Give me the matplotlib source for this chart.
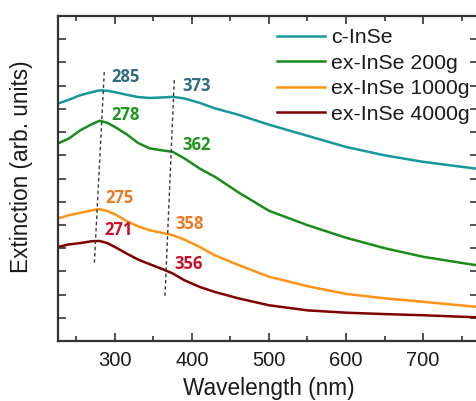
import matplotlib
matplotlib.use("Agg")
import matplotlib.pyplot as plt

# extinction spectra (arb. units, vertically offset)
wavelength = [226, 240, 255, 270, 280, 290, 300, 315, 330, 345, 360, 375,
              390, 410, 430, 460, 500, 550, 600, 650, 700, 770]
c_inse = [10.23, 10.39, 10.59, 10.72, 10.80, 10.78, 10.72, 10.61, 10.51, 10.47,
          10.49, 10.52, 10.45, 10.26, 10.02, 9.75, 9.32, 8.84, 8.36, 8.00, 7.72, 7.42]
ex_200g = [8.51, 8.72, 9.08, 9.34, 9.49, 9.40, 9.22, 8.91, 8.53, 8.30,
           8.22, 8.15, 7.87, 7.43, 7.07, 6.41, 5.61, 4.99, 4.45, 4.00, 3.63, 3.26]
ex_1000g = [5.28, 5.42, 5.52, 5.63, 5.68, 5.60, 5.46, 5.17, 4.94, 4.77,
            4.67, 4.56, 4.37, 4.05, 3.69, 3.28, 2.77, 2.36, 2.03, 1.84, 1.69, 1.47]
ex_4000g = [4.05, 4.16, 4.22, 4.30, 4.31, 4.22, 4.05, 3.77, 3.51, 3.31,
            3.12, 2.91, 2.62, 2.33, 2.11, 1.84, 1.54, 1.32, 1.22, 1.16, 1.11, 1.02]

series_names = ["c-InSe", "ex-InSe 200g", "ex-InSe 1000g", "ex-InSe 4000g"]
line_colors = ["#16979b", "#1a8c1a", "#ff9414", "#800000"]
label_colors = ["#2f6b80", "#1e961e", "#ec7a1e", "#c8102e"]

# band positions (nm) for the peak and the shoulder of each spectrum
peak_nm = [285, 278, 275, 271]
shoulder_nm = [373, 362, 358, 356]

fig = plt.figure(figsize=(4.76, 4.01), dpi=100)
ax = fig.add_axes([0.1218, 0.1496, 0.8824, 0.8104])

for ys, name, col in zip([c_inse, ex_200g, ex_1000g, ex_4000g], series_names, line_colors):
    ax.plot(wavelength, ys, color=col, lw=1.8, label=name)

# guide lines through the peaks and shoulders
ax.plot([286.1, 273.1], [11.59, 3.26], ls=(0, (2.5, 2)), color="#3a3a3a", lw=1.0)
ax.plot([377.0, 364.9], [11.24, 1.90], ls=(0, (2.5, 2)), color="#3a3a3a", lw=1.0)

peak_xy = [(296, 11.36), (295, 9.73), (288, 6.15), (286, 4.77)]
shoulder_xy = [(388, 10.98), (388, 8.44), (378, 5.05), (377, 3.33)]
for i in range(4):
    ax.text(*peak_xy[i], str(peak_nm[i]), color=label_colors[i], fontsize=12,
            fontweight="bold", family="Open Sans", va="center", ha="left")
    ax.text(*shoulder_xy[i], str(shoulder_nm[i]), color=label_colors[i], fontsize=12,
            fontweight="bold", family="Open Sans", va="center", ha="left")

ax.set_xlim(226, 771.4)
ax.set_ylim(0, 14)
ax.set_xticks([300, 400, 500, 600, 700])
ax.set_xticks([250, 350, 450, 550, 650, 750], minor=True)
ax.set_yticks(range(1, 14))
ax.set_yticklabels([])
ax.tick_params(direction="in", which="both", top=True, right=True,
               color="#333333", width=1.2)
ax.tick_params(which="major", length=6, pad=7, labelsize=14.5, labelcolor="#1a1a1a")
ax.tick_params(which="minor", length=3.5)
for lab in ax.get_xticklabels():
    lab.set_family("Liberation Sans")
for sp in ax.spines.values():
    sp.set_linewidth(1.6)
    sp.set_color("#333333")

ax.set_xlabel("Wavelength (nm)", fontsize=16.3, family="Liberation Sans", color="#1a1a1a", va="top")
ax.set_ylabel("Extinction (arb. units)", fontsize=16.3, family="Liberation Sans", color="#1a1a1a")
ax.xaxis.set_label_coords(0.501, -0.111)
ax.yaxis.set_label_coords(-0.06, 0.537)

leg = ax.legend(loc="upper left", bbox_to_anchor=(0.521, 0.963), frameon=False,
                borderpad=0, borderaxespad=0, handlelength=2.27, handletextpad=0.28,
                labelspacing=0.31, prop={"family": "Liberation Sans", "size": 15.3})
for t in leg.get_texts():
    t.set_color("#1a1a1a")

fig.savefig("out.png", dpi=100)
